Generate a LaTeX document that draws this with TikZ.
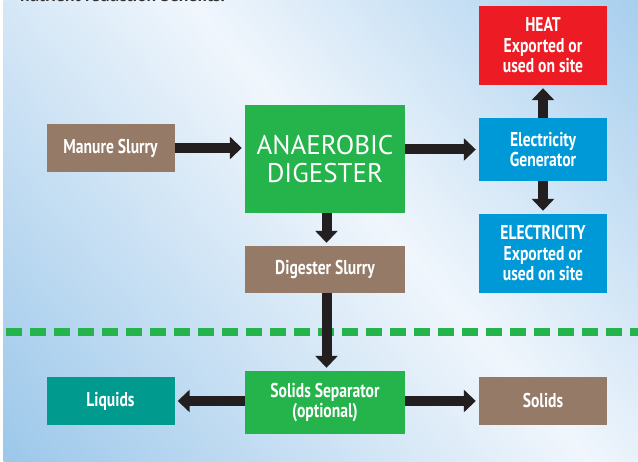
\documentclass[tikz,border=0pt]{standalone}
\usepackage{fontspec}
\setmainfont{PT Sans}
\newfontfamily\condfont{PT Sans}[FakeStretch=0.78]
\newfontfamily\plainfont{PT Sans}
\usetikzlibrary{arrows.meta}
\definecolor{bgA}{HTML}{9BC7EA}
\definecolor{bgB}{HTML}{F0F6FC}
\definecolor{bgC}{HTML}{A8CFEE}
\definecolor{bgD}{HTML}{9FCBEC}
\definecolor{brownc}{HTML}{947A67}
\definecolor{greenc}{HTML}{25B34B}
\definecolor{redc}{HTML}{ED1C24}
\definecolor{bluec}{HTML}{0099D8}
\definecolor{tealc}{HTML}{009B8E}
\definecolor{arrowc}{HTML}{231F20}
\definecolor{textg}{HTML}{333333}
\pgfdeclarehorizontalshading{bgshade}{100bp}{color(0bp)=(bgA); color(34bp)=(bgA); color(50bp)=(bgB); color(62bp)=(bgC); color(75bp)=(bgD); color(100bp)=(bgD)}
\tikzset{
  box/.style={inner sep=0pt, text=white, align=center,
    font=\condfont\bfseries\fontsize{20}{20.5}\selectfont},
  arr/.style={line width=10pt, draw=arrowc, -{Triangle[width=22pt,length=12pt]}, shorten >=3pt},
  dashline/.style={draw=greenc, line width=8pt, dash pattern=on 16pt off 8pt}
}
\begin{document}
\begin{tikzpicture}[x=1pt,y=-1pt]
\useasboundingbox (0,0) rectangle (638,462);
\clip (0,0) rectangle (638,462);
\fill[white] (0,0) rectangle (638,462);
\begin{scope}
  \clip (3.5,0) rectangle (638,462);
  \shade[shading=bgshade, shading angle=41] (-310,-469) rectangle (1090,931);
\end{scope}
% partially visible caption
\node[anchor=base west, inner sep=0pt, text=textg, font=\plainfont\bfseries\fontsize{17.5}{18}\selectfont] (cap) at (20,2) {nutrient reduction benefits.};
% dashed separator
\draw[dashline] (6,332) -- (638,332);
% boxes
\node[box, fill=redc, minimum width=128pt, minimum height=79pt] (heat) at (543,45.5) {HEAT\\Exported or\\used on site};
\node[box, fill=bluec, minimum width=128pt, minimum height=63pt] (gen) at (543,149.5) {Electricity\\Generator};
\node[box, fill=bluec, minimum width=128pt, minimum height=79pt] (elec) at (543,253.5) {ELECTRICITY\\Exported or\\used on site};
\node[box, fill=greenc, minimum width=160pt, minimum height=108pt, font=\plainfont\fontsize{27}{28}\selectfont] (ad) at (325,159) {ANAEROBIC\\DIGESTER};
\node[box, fill=brownc, minimum width=128pt, minimum height=48pt] (man) at (110.5,148) {Manure Slurry};
\node[box, fill=brownc, minimum width=160pt, minimum height=47pt] (ds) at (325,269.5) {Digester Slurry};
\node[box, fill=greenc, minimum width=160pt, minimum height=63pt] (sep) at (325,402.5) {Solids Separator\\(optional)};
\node[box, fill=tealc, minimum width=128pt, minimum height=48pt] (liq) at (110.5,401) {Liquids};
\node[box, fill=brownc, minimum width=128pt, minimum height=48pt] (sol) at (543,401) {Solids};
% arrows
\draw[arr] (man.east) -- (man.east -| ad.west);
\draw[arr] (gen.west -| ad.east) -- (gen.west);
\draw[arr] (gen.north) -- (heat.south);
\draw[arr] (gen.south) -- (elec.north);
\draw[arr] ([xshift=1.5pt]ad.south) -- ([xshift=1.5pt]ds.north);
\draw[arr] ([xshift=1.5pt]ds.south) -- ([xshift=1.5pt]sep.north);
\draw[arr] (liq.east -| sep.west) -- (liq.east);
\draw[arr] (sol.west -| sep.east) -- (sol.west);
\end{tikzpicture}
\end{document}
